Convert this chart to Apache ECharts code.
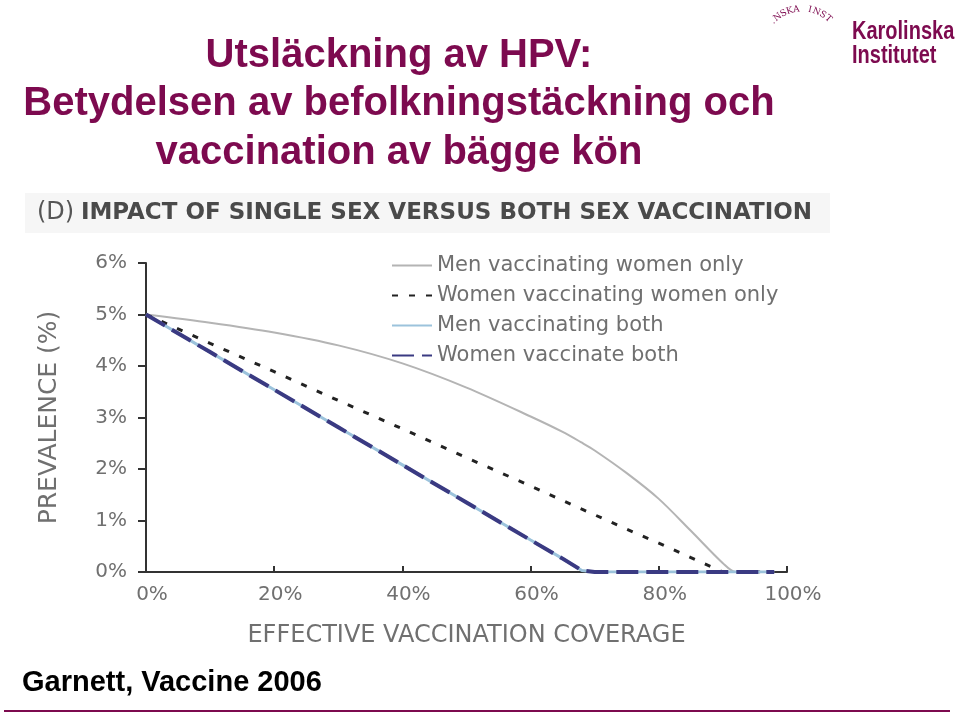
<!DOCTYPE html>
<html>
<head>
<meta charset="utf-8">
<script src="https://cdn.jsdelivr.net/npm/echarts@6/dist/echarts.min.js"></script>
<style>html,body{margin:0;padding:0;background:#fff;}#c{width:960px;height:716px;}</style>
</head>
<body>
<div id="c"></div>
<script>
// ---- data ----
const coverage = [0, 10, 20, 30, 40, 50, 60, 65, 68, 70, 75, 80, 85, 90, 92, 95, 98];
const menVaccWomenOnly   = [5.0, 4.84, 4.65, 4.40, 4.05, 3.58, 3.02, 2.72, 2.51, 2.36, 1.92, 1.42, 0.80, 0.17, 0, 0, 0];
const womenVaccWomenOnly = [5.0, 4.44, 3.89, 3.33, 2.78, 2.22, 1.67, 1.39, 1.22, 1.11, 0.83, 0.56, 0.28, 0, 0, 0, 0];
const menVaccBoth        = [5.0, 4.27, 3.54, 2.81, 2.08, 1.35, 0.62, 0.26, 0.03, 0, 0, 0, 0, 0, 0, 0, 0];
const womenVaccBoth      = [5.0, 4.27, 3.54, 2.81, 2.08, 1.35, 0.62, 0.26, 0.03, 0, 0, 0, 0, 0, 0, 0, 0];
const seriesNames = ['Men vaccinating women only', 'Women vaccinating women only', 'Men vaccinating both', 'Women vaccinate both'];
const xTicks = [0, 20, 40, 60, 80, 100];
const yTicks = [0, 1, 2, 3, 4, 5, 6];
const titleLines = ['Utsläckning av HPV:', 'Betydelsen av befolkningstäckning och', 'vaccination av bägge kön'];
const panelTitle = ['(D)', 'IMPACT OF SINGLE SEX VERSUS BOTH SEX VACCINATION'];
const xAxisName = 'EFFECTIVE VACCINATION COVERAGE';
const yAxisName = 'PREVALENCE (%)';
const sourceText = 'Garnett, Vaccine 2006';
const logoLines = ['Karolinska', 'Institutet'];
const sealText = '.NSKA INST';

const pairs = arr => coverage.map((x, i) => [x, arr[i]]);
const maroon = '#7d0a4f';
const chartFont = 'DejaVu Sans';
const grayText = '#707070';

const chart = echarts.init(document.getElementById('c'));

const graphics = [];
// main title (baselines ~65, 113, 162)
const titleBase = [65, 113, 162];
titleLines.forEach((t, i) => {
  graphics.push({type: 'text', x: 399, y: titleBase[i] - 9, style: {
    text: t, fill: maroon, font: 'bold 40px "Liberation Sans", Arial, sans-serif',
    align: 'center', verticalAlign: 'middle'}});
});
// panel title background & text
graphics.push({type: 'rect', shape: {x: 25, y: 193, width: 805, height: 40}, style: {fill: '#f6f6f6'}, z: -1});
graphics.push({type: 'text', x: 37, y: 213, style: {
  text: '{a|' + panelTitle[0] + '}  {b|' + panelTitle[1] + '}',
  verticalAlign: 'middle',
  rich: {
    a: {font: '24px "DejaVu Sans"', fill: '#555'},
    b: {font: 'bold 23px "DejaVu Sans"', fill: '#4a4a4a'}
  }
}});
// logo
graphics.push({type: 'text', x: 852, y: 32, scaleX: 0.8, style: {text: logoLines[0], fill: maroon,
  font: 'bold 25px "Liberation Sans", sans-serif', verticalAlign: 'middle'}});
graphics.push({type: 'text', x: 852, y: 56, scaleX: 0.8, style: {text: logoLines[1], fill: maroon,
  font: 'bold 25px "Liberation Sans", sans-serif', verticalAlign: 'middle'}});
// seal arc letters
{
  const cx = 802, cy = 49, r = 40;
  const a0 = -137 * Math.PI / 180, a1 = -49 * Math.PI / 180;
  const n = sealText.length;
  for (let i = 0; i < n; i++) {
    const a = a0 + (a1 - a0) * i / (n - 1);
    graphics.push({type: 'text', x: cx + r * Math.cos(a), y: cy + r * Math.sin(a), rotation: -(a + Math.PI / 2),
      style: {text: sealText[i], fill: maroon, font: '9px "DejaVu Serif"', align: 'center', verticalAlign: 'middle'}});
  }
}
// source
graphics.push({type: 'text', x: 22, y: 683, style: {text: sourceText, fill: '#000',
  font: 'bold 29px "Liberation Sans", Arial, sans-serif', verticalAlign: 'middle'}});
// bottom rule
graphics.push({type: 'line', shape: {x1: 4, y1: 711, x2: 950, y2: 711}, style: {stroke: maroon, lineWidth: 2}});

const option = {
  animation: false,
  backgroundColor: '#fff',
  graphic: graphics,
  grid: {left: 146, right: 173, top: 263, bottom: 144, containLabel: false},
  legend: {
    orient: 'vertical', left: 386, top: 250, itemWidth: 40, itemHeight: 12, itemGap: 9,
    data: seriesNames,
    itemStyle: {opacity: 0},
    textStyle: {color: grayText, fontFamily: chartFont, fontSize: 21, lineHeight: 20}
  },
  xAxis: {
    type: 'value', min: 0, max: 100, interval: 20,
    name: xAxisName, nameLocation: 'middle', nameGap: 52,
    nameTextStyle: {color: grayText, fontFamily: chartFont, fontSize: 24},
    axisLine: {show: true, lineStyle: {color: '#333', width: 2}},
    axisTick: {show: true, inside: true, length: 6, lineStyle: {color: '#333', width: 2}},
    axisLabel: {color: grayText, fontFamily: chartFont, fontSize: 20, margin: 13, padding: [0, 0, 0, 12],
      formatter: v => xTicks.includes(v) ? v + '%' : ''},
    splitLine: {show: false}
  },
  yAxis: {
    type: 'value', min: 0, max: 6, interval: 1,
    name: yAxisName, nameLocation: 'middle', nameGap: 84,
    nameTextStyle: {color: grayText, fontFamily: chartFont, fontSize: 25},
    axisLine: {show: true, lineStyle: {color: '#333', width: 2}},
    axisTick: {show: true, inside: false, length: 8, lineStyle: {color: '#333', width: 2}},
    axisLabel: {color: grayText, fontFamily: chartFont, fontSize: 20, margin: 19,
      formatter: v => yTicks.includes(v) ? v + '%' : ''},
    splitLine: {show: false}
  },
  series: [
    {name: seriesNames[0], type: 'line', data: pairs(menVaccWomenOnly), symbol: 'none', smooth: 0.3,
      lineStyle: {color: '#b4b4b4', width: 2}, itemStyle: {color: '#b4b4b4'}},
    {name: seriesNames[1], type: 'line', data: pairs(womenVaccWomenOnly), symbol: 'none',
      lineStyle: {color: '#222', width: 3, type: [6, 11]}, itemStyle: {color: '#222'}},
    {name: seriesNames[2], type: 'line', data: pairs(menVaccBoth), symbol: 'none',
      lineStyle: {color: '#9cc3dc', width: 3}, itemStyle: {color: '#9cc3dc'}},
    {name: seriesNames[3], type: 'line', data: pairs(womenVaccBoth), symbol: 'none',
      lineStyle: {color: '#3a3a82', width: 4, type: [22, 8]}, itemStyle: {color: '#3a3a82'}}
  ]
};
chart.setOption(option);
</script>
</body>
</html>
